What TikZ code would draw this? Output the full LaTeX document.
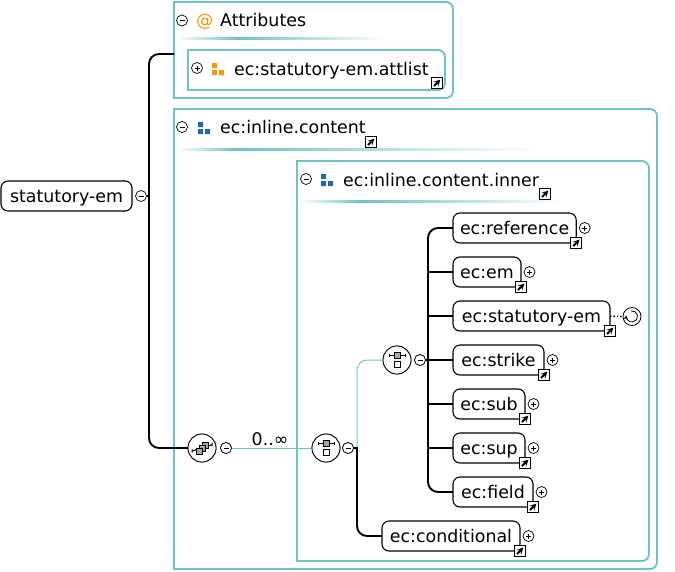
\documentclass[tikz,border=0pt]{standalone}
\usepackage{fontspec}
\setmainfont{DejaVu Sans}
\usepackage{tikz}
\usetikzlibrary{positioning}

\definecolor{frameteal}{HTML}{6CC5C1}
\definecolor{attorange}{HTML}{F09A0A}
\definecolor{groupblue}{HTML}{1F66B5}
\pgfdeclarehorizontalshading{headruleA}{100bp}{color(0bp)=(white); color(25bp)=(white); color(39.5bp)=(frameteal); color(75bp)=(white); color(100bp)=(white)}
\pgfdeclarehorizontalshading{headruleB}{100bp}{color(0bp)=(white); color(25bp)=(white); color(33bp)=(frameteal); color(75bp)=(white); color(100bp)=(white)}
\pgfdeclarehorizontalshading{headruleC}{100bp}{color(0bp)=(white); color(25bp)=(white); color(36.5bp)=(frameteal); color(75bp)=(white); color(100bp)=(white)}

\tikzset{
    label/.style={font=\fontsize{17.4}{19}\selectfont, inner sep=0pt, anchor=west, text height=13pt, text depth=0pt},
    element/.style={label, draw, line width=1.1pt, rounded corners=7pt, minimum height=30pt, inner xsep=7pt, outer sep=0pt},
    groupbox/.style={inner sep=0pt, outer sep=0pt, anchor=north west},
    frame/.style={draw=frameteal, line width=1.9pt},
    bus/.style={line width=1.9pt, rounded corners=10pt},
    thin link/.style={draw=frameteal, line width=1pt, rounded corners=10pt},
    headline/.style={draw=none, minimum height=2.4pt, inner sep=0pt, anchor=west},
    toggle/.style={circle, draw, fill=white, line width=.7pt, minimum size=11pt, inner sep=0pt, outer sep=0pt},
    collapse/.style={toggle, path picture={\draw[line width=.7pt] (-2.5pt,0pt) -- (2.5pt,0pt);}},
    expand/.style={toggle, path picture={\draw[line width=.7pt] (-2.5pt,0pt) -- (2.5pt,0pt) (0pt,-2.5pt) -- (0pt,2.5pt);}},
    linkmark/.style={draw, fill=white, line width=1.2pt, minimum size=11pt, inner sep=0pt,
        path picture={\draw[line width=1.8pt, -stealth] (-3pt,-3pt) -- (3.4pt,3.4pt);}},
    compositor/.style={circle, draw, fill=white, line width=.8pt, minimum size=28pt, inner sep=0pt, outer sep=0pt},
    seqnode/.style={compositor, path picture={
        \draw[line width=1pt] (-8pt,4.7pt) -- (8pt,4.7pt) (-8pt,3pt) -- (-8pt,6.4pt) (8pt,3pt) -- (8pt,6.4pt);
        \draw[fill=gray!70, line width=.6pt] (-3pt,1.7pt) rectangle (3pt,7.7pt);
        \draw[fill=white, line width=.7pt] (-3pt,-7pt) rectangle (3pt,-1pt);}},
    allnode/.style={compositor, path picture={
        \draw[line width=1pt] (-10pt,-3pt) -- (10pt,3.3pt) (-10pt,-4.7pt) -- (-10pt,-1.3pt) (10pt,1.6pt) -- (10pt,5pt);
        \draw[fill=gray!70, line width=.6pt] (0pt,0pt) rectangle (6pt,6pt);
        \draw[fill=gray!70, line width=.6pt] (-3pt,-3pt) rectangle (3pt,3pt);
        \draw[fill=gray!70, line width=.6pt] (-6pt,-6pt) rectangle (0pt,0pt);}},
    recursion/.style={circle, draw, fill=white, line width=.8pt, minimum size=18pt, inner sep=0pt, outer sep=0pt,
        path picture={\draw[line width=.8pt, ->, >=stealth] (-1pt,5.6pt) arc (100:-190:5.6pt);}},
    groupicon/.style={minimum size=12pt, inner sep=0pt, path picture={
        \fill[#1] (-6pt,1pt) rectangle (-1pt,6pt) (-6pt,-6pt) rectangle (-1pt,-1pt) (1pt,-6pt) rectangle (6pt,-1pt);}}
}

\begin{document}
\begin{tikzpicture}[x=1pt, y=-1pt]
    \useasboundingbox (0,0) rectangle (675,571);

    % the four frames
    \node[groupbox, minimum width=279pt, minimum height=96pt] (attributes) at (174,2) {};
    \node[groupbox, minimum width=257pt, minimum height=40pt] (attlist) at (188,50) {};
    \node[groupbox, minimum width=483pt, minimum height=460pt] (inlinecontent) at (174,109) {};
    \node[groupbox, minimum width=352pt, minimum height=400pt] (innercontent) at (297,161) {};
    \foreach \group in {attributes,attlist,inlinecontent,innercontent}
        \draw[frame] (\group.south west) -- (\group.north west) [rounded corners=7pt] -- (\group.north east) -- (\group.south east) [sharp corners] -- cycle;

    % frame headers
    \node[collapse] (attributesminus) at (182,20.5) {};
    \node[label, text=attorange] (atsign) at (196,20) {@};
    \node[label] (attributestext) at (220,20) {Attributes};
    \node[headline, shading=headruleA, minimum width=210pt] (attributesrule) at (177,38.5) {};

    \node[expand] (attlistplus) at (197,68) {};
    \node[groupicon=attorange] (attlisticon) at (218,69) {};
    \node[label] (attlisttext) at (234,68.5) {ec:statutory-em.attlist};
    \node[linkmark] (attlistlink) at (437,83) {};

    \node[collapse] (inlineminus) at (182,127) {};
    \node[groupicon=groupblue] (inlineicon) at (204,128) {};
    \node[label] (inlinetext) at (220,127) {ec:inline.content};
    \node[linkmark] (inlinelink) at (371,142) {};
    \node[headline, shading=headruleB, minimum width=360pt] (inlinerule) at (177,149.5) {};

    \node[collapse] (innerminus) at (306,179) {};
    \node[groupicon=groupblue] (innericon) at (327,180) {};
    \node[label] (innertext) at (343,179.5) {ec:inline.content.inner};
    \node[linkmark] (innerlink) at (545,194) {};
    \node[headline, shading=headruleC, minimum width=263pt] (innerrule) at (300,201.5) {};

    % root and compositors
    \node[element, minimum width=131pt] (root) at (1,196) {statutory-em};
    \node[collapse, right=3.5pt of root] (rootminus) {};
    \node[allnode] (choice) at (202,448) {};
    \node[collapse] (choiceminus) at (226,448) {};
    \node[seqnode] (outerseq) at (326,448) {};
    \node[collapse] (outerseqminus) at (348,448) {};
    \node[seqnode] (innerseq) at (397,360) {};
    \node[collapse] (innerseqminus) at (420,360) {};
    \node[label, anchor=center] (occurs) at (270,439) {0..∞};

    % element children
    \foreach \name/\txt/\posy/\wid in {reference/ec:reference/228/123,
            em/ec:em/272/68, statutory/ec:statutory-em/316/157, strike/ec:strike/360/91,
            sub/ec:sub/404/72, sup/ec:sup/448/72, field/ec:field/492/80}
        \node[element, minimum width=\wid pt] (\name) at (453,\posy) {\txt};
    \node[element, minimum width=138pt] (conditional) at (382,536) {ec:conditional};

    % connectors
    \coordinate (attributesjoin) at (attributes.west |- 0,54);
    \coordinate (busx) at (149,0);
    \coordinate (seqx) at (357,0);
    \coordinate (childx) at (428,0);
    \draw[bus] (attributesjoin) -- (busx |- attributesjoin) -- (busx |- choice) -- (choice);
    \draw[bus, sharp corners] (rootminus) -- (busx |- rootminus);
    \draw[thin link] (choiceminus) -- (outerseq);
    \draw[thin link] (seqx |- outerseq) -- (seqx |- innerseq) -- (innerseq);
    \draw[bus] (outerseqminus) [sharp corners] -- (seqx |- outerseqminus) [rounded corners=10pt] -- (seqx |- conditional) -- (conditional);
    \draw[bus] (reference) -- (childx |- reference) -- (childx |- field) -- (field);
    \draw[bus, sharp corners] (innerseqminus) -- (childx |- innerseqminus);
    \foreach \name in {em,statutory,strike,sub,sup}
        \draw[bus, sharp corners] (childx |- \name) -- (\name);

    % redraw the compositors over their lines
    \node[allnode] at (choice) {};
    \node[seqnode] at (outerseq) {};
    \node[seqnode] at (innerseq) {};
    \node[collapse] at (choiceminus) {};
    \node[collapse] at (outerseqminus) {};
    \node[collapse] at (innerseqminus) {};

    % marks on the children
    \foreach \name in {reference,em,strike,sub,sup,field,conditional} {
        \node[linkmark] (\name link) at (\name.south east) {};
        \node[expand, right=3pt of \name] (\name plus) {};
    }
    \node[linkmark] (statutorylink) at (statutory.south east) {};
    \node[recursion] (statutoryback) at (632,316.5) {};
    \draw[dotted, line width=1.4pt] (statutory) -- (statutoryback);
\end{tikzpicture}
\end{document}
